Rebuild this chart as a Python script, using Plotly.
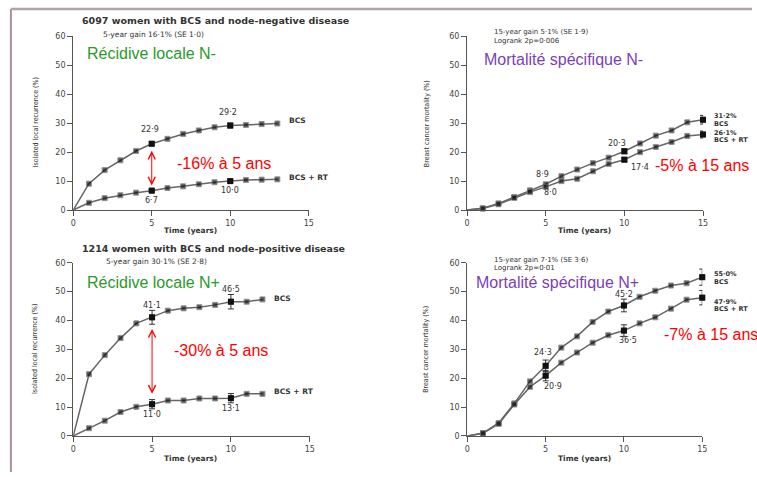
import plotly.graph_objects as go

W, H = 757, 477

# ---------------- data ----------------
years_a = list(range(0, 14))
loc_neg_bcs = [0, 9.1, 13.8, 17.2, 20.4, 22.9, 24.6, 26.3, 27.5, 28.6, 29.2, 29.4, 29.7, 29.9]
loc_neg_rt = [0, 2.5, 4.1, 5.1, 6.0, 6.7, 7.6, 8.2, 8.9, 9.6, 10.0, 10.4, 10.5, 10.6]

years_b = list(range(0, 16))
mort_neg_bcs = [0, 0.6, 2.3, 4.5, 6.8, 8.9, 11.7, 14.0, 16.2, 18.1, 20.3, 23.0, 25.7, 27.5, 30.3, 31.2]
mort_neg_rt = [0, 0.5, 2.0, 4.2, 6.2, 8.0, 10.0, 10.8, 13.4, 15.9, 17.4, 20.0, 21.8, 23.5, 25.6, 26.1]

years_c = list(range(0, 13))
loc_pos_bcs = [0, 21.4, 28.0, 33.9, 39.0, 41.1, 43.4, 44.2, 44.6, 45.4, 46.5, 46.5, 47.3]
loc_pos_rt = [0, 2.7, 5.3, 8.3, 10.1, 11.0, 12.3, 12.3, 13.0, 13.0, 13.1, 14.6, 14.6]

years_d = list(range(0, 16))
mort_pos_bcs = [0, 1.0, 4.5, 11.3, 18.9, 24.3, 30.6, 34.5, 39.5, 43.1, 45.2, 48.2, 50.3, 52.1, 52.9, 55.0]
mort_pos_rt = [0, 0.9, 4.2, 10.9, 17.0, 20.9, 25.4, 28.9, 32.3, 34.9, 36.5, 39.0, 41.1, 44.1, 47.2, 47.9]

# error bars (year, value, se) per panel / series
err_a_bcs = ([5, 10], [22.9, 29.2], [0.6, 0.8])
err_a_rt = ([5, 10], [6.7, 10.0], [0.4, 0.5])
err_b_bcs = ([10, 15], [20.3, 31.2], [0.8, 1.5])
err_b_rt = ([10, 15], [17.4, 26.1], [0.7, 1.2])
err_c_bcs = ([5, 10], [41.1, 46.5], [2.4, 2.5])
err_c_rt = ([5, 10], [11.0, 13.1], [1.6, 1.6])
err_d_bcs = ([5, 10, 15], [24.3, 45.2, 55.0], [2.0, 2.2, 2.8])
err_d_rt = ([5, 10, 15], [20.9, 36.5, 47.9], [1.8, 2.0, 2.5])

x_ticks = [0, 5, 10, 15]
y_ticks = [0, 10, 20, 30, 40, 50, 60]

# ---------------- figure ----------------
fig = go.Figure()


def px_x(p):
    return p / W


def px_y(p):
    return 1 - p / H


domains = {
    1: ([px_x(71), px_x(309)], [px_y(210), px_y(33)]),
    2: ([px_x(469), px_x(707.5)], [px_y(210), px_y(33)]),
    3: ([px_x(71), px_x(310)], [px_y(440.3), px_y(263.7)]),
    4: ([px_x(469.3), px_x(706.7)], [px_y(440.3), px_y(263.7)]),
}

LINE_C = '#666666'
MARK_C = '#111111'


def add_series(i, xs, ys):
    xa = 'x' if i == 1 else f'x{i}'
    ya = 'y' if i == 1 else f'y{i}'
    fig.add_trace(go.Scatter(
        x=xs, y=ys, mode='lines+markers', xaxis=xa, yaxis=ya,
        line=dict(color=LINE_C, width=1.5),
        marker=dict(symbol='square', color=MARK_C, size=[0] + [5] * (len(xs) - 1)),
        cliponaxis=False, showlegend=False, hoverinfo='skip'))


def add_err(i, e):
    xa = 'x' if i == 1 else f'x{i}'
    ya = 'y' if i == 1 else f'y{i}'
    fig.add_trace(go.Scatter(
        x=e[0], y=e[1], mode='markers', xaxis=xa, yaxis=ya,
        marker=dict(symbol='square', color=MARK_C, size=6),
        error_y=dict(type='data', array=e[2], color='#333333', thickness=1, width=3),
        cliponaxis=False, showlegend=False, hoverinfo='skip'))


add_series(1, years_a, loc_neg_bcs)
add_series(1, years_a, loc_neg_rt)
add_series(2, years_b, mort_neg_bcs)
add_series(2, years_b, mort_neg_rt)
add_series(3, years_c, loc_pos_bcs)
add_series(3, years_c, loc_pos_rt)
add_series(4, years_d, mort_pos_bcs)
add_series(4, years_d, mort_pos_rt)
for i, e in [(1, err_a_bcs), (1, err_a_rt), (2, err_b_bcs), (2, err_b_rt),
             (3, err_c_bcs), (3, err_c_rt), (4, err_d_bcs), (4, err_d_rt)]:
    add_err(i, e)

axis_common = dict(showline=True, linecolor='#555555', linewidth=1.2, ticks='outside',
                   ticklen=5, tickcolor='#555555', tickwidth=1, showgrid=False, zeroline=False,
                   tickfont=dict(family='DejaVu Sans', size=8, color='#444444'))
layout_axes = {}
for i, (dx, dy) in domains.items():
    sx = '' if i == 1 else str(i)
    layout_axes[f'xaxis{sx}'] = dict(axis_common, domain=dx, range=[0, 15], tickvals=x_ticks,
                                     anchor=f'y{sx}')
    layout_axes[f'yaxis{sx}'] = dict(axis_common, domain=dy, range=[0, 60], tickvals=y_ticks,
                                     anchor=f'x{sx}')

fig.update_layout(**layout_axes)

ann = []
FONT = 'DejaVu Sans'
ARIAL = 'Liberation Sans'


def ptext(x, y, s, size=8, color='#333333', xanchor='left', family=FONT, textangle=0):
    ann.append(dict(x=px_x(x), y=px_y(y), xref='paper', yref='paper', text=s, showarrow=False,
                    xanchor=xanchor, yanchor='middle', textangle=textangle,
                    font=dict(family=family, size=size, color=color)))


def dtext(i, x, y, s, dx=0, dy=0, size=8, xanchor='center'):
    sx = '' if i == 1 else str(i)
    ann.append(dict(x=x, y=y, xref=f'x{sx}', yref=f'y{sx}', text=s, showarrow=False,
                    xanchor=xanchor, yanchor='middle', xshift=dx, yshift=dy,
                    font=dict(family=FONT, size=size, color='#333333')))


def fmt(v):
    return f'{v:.1f}'.replace('.', '·')


# titles
ptext(215, 17, '<b>6097 women with BCS and node-negative disease</b>', size=9.5, xanchor='center')
ptext(152, 31, '5-year gain 16·1% (SE 1·0)', size=7.5, xanchor='center')
ptext(213, 249, '<b>1214 women with BCS and node-positive disease</b>', size=9.5, xanchor='center')
ptext(155, 262, '5-year gain 30·1% (SE 2·8)', size=7.5, xanchor='center')
ptext(494, 29, '15-year gain 5·1% (SE 1·9)', size=7)
ptext(494, 37.5, 'Logrank 2p=0·006', size=7)
ptext(494, 261, '15-year gain 7·1% (SE 3·6)', size=7)
ptext(494, 269.5, 'Logrank 2p=0·01', size=7)

# coloured slide labels
ptext(83, 50, 'Récidive locale N-', size=16, color='#2a9a2a', family=ARIAL)
ptext(83, 284, 'Récidive locale N+', size=16, color='#2a9a2a', family=ARIAL)
ptext(484, 57, 'Mortalité spécifique N-', size=16, color='#7b3fb5', family=ARIAL)
ptext(476, 284, 'Mortalité spécifique N+', size=16, color='#7b3fb5', family=ARIAL)
ptext(174, 163, '-16% à 5 ans', size=16, color='#ff0000', family=ARIAL)
ptext(171, 353, '-30% à 5 ans', size=16, color='#ff0000', family=ARIAL)
ptext(657, 165, '-5% à 15 ans', size=16, color='#ff0000', family=ARIAL)
ptext(666, 337, '-7% à 15 ans', size=16, color='#ff0000', family=ARIAL)

# axis titles
for (x, y, s) in [(33, 121, 'Isolated local recurrence (%)'), (33, 352, 'Isolated local recurrence (%)'),
                  (428, 122, 'Breast cancer mortality (%)'), (428, 352, 'Breast cancer mortality (%)')]:
    ptext(x, y, s, size=7, color='#333333', xanchor='center', textangle=-90,
          family='DejaVu Sans Condensed')
for (x, y) in [(190, 231), (588, 231), (190, 463), (588, 463)]:
    ptext(x, y, '<b>Time (years)</b>', size=7.5, xanchor='center')

# curve labels
ptext(287, 119, '<b>BCS</b>', size=7.5)
ptext(287, 177, '<b>BCS + RT</b>', size=7.5)
ptext(272, 300, '<b>BCS</b>', size=7.5)
ptext(272, 395, '<b>BCS + RT</b>', size=7.5)
ptext(717, 114.5, f'<b>{fmt(mort_neg_bcs[15])}%</b>', size=6.5)
ptext(717, 122, '<b>BCS</b>', size=6.5)
ptext(717, 131, f'<b>{fmt(mort_neg_rt[15])}%</b>', size=6.5)
ptext(717, 138.5, '<b>BCS + RT</b>', size=6.5)
ptext(717, 275.5, f'<b>{fmt(mort_pos_bcs[15])}%</b>', size=6.5)
ptext(717, 283, '<b>BCS</b>', size=6.5)
ptext(717, 303.5, f'<b>{fmt(mort_pos_rt[15])}%</b>', size=6.5)
ptext(717, 311, '<b>BCS + RT</b>', size=6.5)

# value labels
dtext(1, 5, loc_neg_bcs[5], fmt(loc_neg_bcs[5]), dx=-2, dy=14)
dtext(1, 10, loc_neg_bcs[10], fmt(loc_neg_bcs[10]), dx=-2, dy=13)
dtext(1, 5, loc_neg_rt[5], fmt(loc_neg_rt[5]), dx=0, dy=-10)
dtext(1, 10, loc_neg_rt[10], fmt(loc_neg_rt[10]), dx=0, dy=-9)
dtext(2, 5, mort_neg_bcs[5], fmt(mort_neg_bcs[5]), dx=-3, dy=10)
dtext(2, 5, mort_neg_rt[5], fmt(mort_neg_rt[5]), dx=5, dy=-6)
dtext(2, 10, mort_neg_bcs[10], fmt(mort_neg_bcs[10]), dx=-7, dy=8)
dtext(2, 10, mort_neg_rt[10], fmt(mort_neg_rt[10]), dx=16, dy=-8)
dtext(3, 5, loc_pos_bcs[5], fmt(loc_pos_bcs[5]), dx=0, dy=12)
dtext(3, 10, loc_pos_bcs[10], fmt(loc_pos_bcs[10]), dx=0, dy=12)
dtext(3, 5, loc_pos_rt[5], fmt(loc_pos_rt[5]), dx=0, dy=-10)
dtext(3, 10, loc_pos_rt[10], fmt(loc_pos_rt[10]), dx=0, dy=-10)
dtext(4, 5, mort_pos_bcs[5], fmt(mort_pos_bcs[5]), dx=-3, dy=13)
dtext(4, 5, mort_pos_rt[5], fmt(mort_pos_rt[5]), dx=7, dy=-11)
dtext(4, 10, mort_pos_bcs[10], fmt(mort_pos_bcs[10]), dx=0, dy=11)
dtext(4, 10, mort_pos_rt[10], fmt(mort_pos_rt[10]), dx=4, dy=-10)


# red double arrows between curves
def darrow(i, x, y0, y1):
    sx = '' if i == 1 else str(i)
    ann.append(dict(x=x, y=y1, ax=x, ay=y0, xref=f'x{sx}', yref=f'y{sx}', axref=f'x{sx}',
                    ayref=f'y{sx}', showarrow=True, arrowhead=5, startarrowhead=5,
                    arrowside='end+start', arrowsize=1.4, startarrowsize=1.4,
                    arrowwidth=1, arrowcolor='#ff0000', text=''))


darrow(1, 5, loc_neg_bcs[5] - 1.9, loc_neg_rt[5] + 1.8)
darrow(3, 5, loc_pos_bcs[5] - 3.5, loc_pos_rt[5] + 3.6)
darrow(2, 15.1, mort_neg_bcs[15] - 0.3, mort_neg_rt[15] + 0.6)
darrow(4, 15.1, mort_pos_bcs[15] - 0.2, mort_pos_rt[15] + 0.4)

# slide frame
shapes = [
    dict(type='line', xref='paper', yref='paper', x0=px_x(8), x1=px_x(8), y0=0, y1=px_y(5),
         line=dict(color='#b08e9c', width=2)),
    dict(type='line', xref='paper', yref='paper', x0=px_x(8), x1=1, y0=px_y(5), y1=px_y(5),
         line=dict(color='#b3a3a9', width=2.5)),
]

fig.update_layout(width=W, height=H, margin=dict(l=0, r=0, t=0, b=0),
                  paper_bgcolor='white', plot_bgcolor='white',
                  annotations=ann, shapes=shapes, showlegend=False)

fig.write_html('out.html', config={'displayModeBar': False},
               post_script="document.body.style.margin='0';document.body.style.overflow='hidden';")
